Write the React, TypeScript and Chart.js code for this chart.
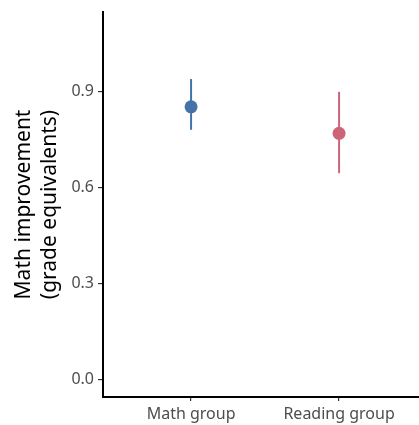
import React, { useEffect, useRef } from "react";
import { Chart, registerables } from "chart.js";

Chart.register(...registerables);

const categories = ["Math group", "Reading group"];
const means = [0.853, 0.77];
const lower = [0.781, 0.645];
const upper = [0.94, 0.9];
const colors = ["#4473A9", "#CC6677"];
const yTicks = [0.0, 0.3, 0.6, 0.9];
const yTitle = ["Math improvement", "(grade equivalents)"];

const FONT = "'Noto Sans', sans-serif";

export default function App() {
  const ref = useRef<HTMLCanvasElement | null>(null);

  useEffect(() => {
    document.body.style.margin = "0";
    const canvas = ref.current!;
    const errorBars = {
      id: "errorBars",
      beforeDatasetsDraw(chart: any) {
        const ctx = chart.ctx;
        const xs = chart.scales.x;
        const ys = chart.scales.y;
        ctx.save();
        for (let i = 0; i < categories.length; i++) {
          const x = xs.getPixelForValue(i);
          ctx.strokeStyle = colors[i];
          ctx.lineWidth = 2;
          ctx.beginPath();
          ctx.moveTo(x, ys.getPixelForValue(lower[i]));
          ctx.lineTo(x, ys.getPixelForValue(upper[i]));
          ctx.stroke();
        }
        ctx.restore();
      },
      afterDraw(chart: any) {
        const ctx = chart.ctx;
        const area = chart.chartArea;
        const cy = (area.top + area.bottom) / 2;
        ctx.save();
        ctx.fillStyle = "#000";
        ctx.font = `21px ${FONT}`;
        ctx.textAlign = "center";
        ctx.textBaseline = "middle";
        const xsPos = [24, 50];
        for (let i = 0; i < yTitle.length; i++) {
          ctx.save();
          ctx.translate(xsPos[i], cy);
          ctx.rotate(-Math.PI / 2);
          ctx.fillText(yTitle[i], 0, 0);
          ctx.restore();
        }
        ctx.restore();
      },
    };

    const chart = new Chart(canvas, {
      type: "scatter",
      data: {
        datasets: [
          {
            data: means.map((v, i) => ({ x: i, y: v })),
            pointBackgroundColor: colors,
            pointBorderColor: colors,
            pointRadius: 6.5,
            pointHoverRadius: 6.5,
            borderWidth: 0,
          },
        ],
      },
      options: {
        animation: false,
        responsive: false,
        events: [],
        layout: { autoPadding: false, padding: { top: 12, right: 0, left: 0, bottom: 0 } },
        plugins: { legend: { display: false }, tooltip: { enabled: false } },
        scales: {
          x: {
            type: "linear",
            min: -0.595,
            max: 1.54,
            afterBuildTicks(scale: any) {
              scale.ticks = categories.map((_, i) => ({ value: i }));
            },
            afterFit(scale: any) {
              scale.height = 28;
              scale.paddingLeft = 0;
              scale.paddingRight = 0;
            },
            ticks: {
              callback: (v: any) => categories[v as number] ?? "",
              color: "#4D4D4D",
              font: { family: FONT, size: 16 },
              padding: 4,
              maxRotation: 0,
              autoSkip: false,
            },
            grid: {
              drawOnChartArea: false,
              drawTicks: true,
              tickLength: 4,
              color: "#333",
              lineWidth: 1.2,
            },
            border: { color: "#000", width: 2 },
          },
          y: {
            min: -0.056,
            max: 1.15,
            afterBuildTicks(scale: any) {
              scale.ticks = yTicks.map((v) => ({ value: v }));
            },
            afterFit(scale: any) {
              scale.width = 103;
              scale.paddingTop = 0;
              scale.paddingBottom = 0;
            },
            ticks: {
              callback: (v: any) => Number(v).toFixed(1),
              color: "#4D4D4D",
              font: { family: FONT, size: 16 },
              padding: 4,
            },
            grid: {
              drawOnChartArea: false,
              drawTicks: true,
              tickLength: 5,
              color: "#333",
              lineWidth: 1.2,
            },
            border: { color: "#000", width: 2 },
          },
        },
      },
      plugins: [errorBars],
    });
    return () => chart.destroy();
  }, []);

  return <canvas ref={ref} width={419} height={425} style={{ display: "block" }} />;
}
